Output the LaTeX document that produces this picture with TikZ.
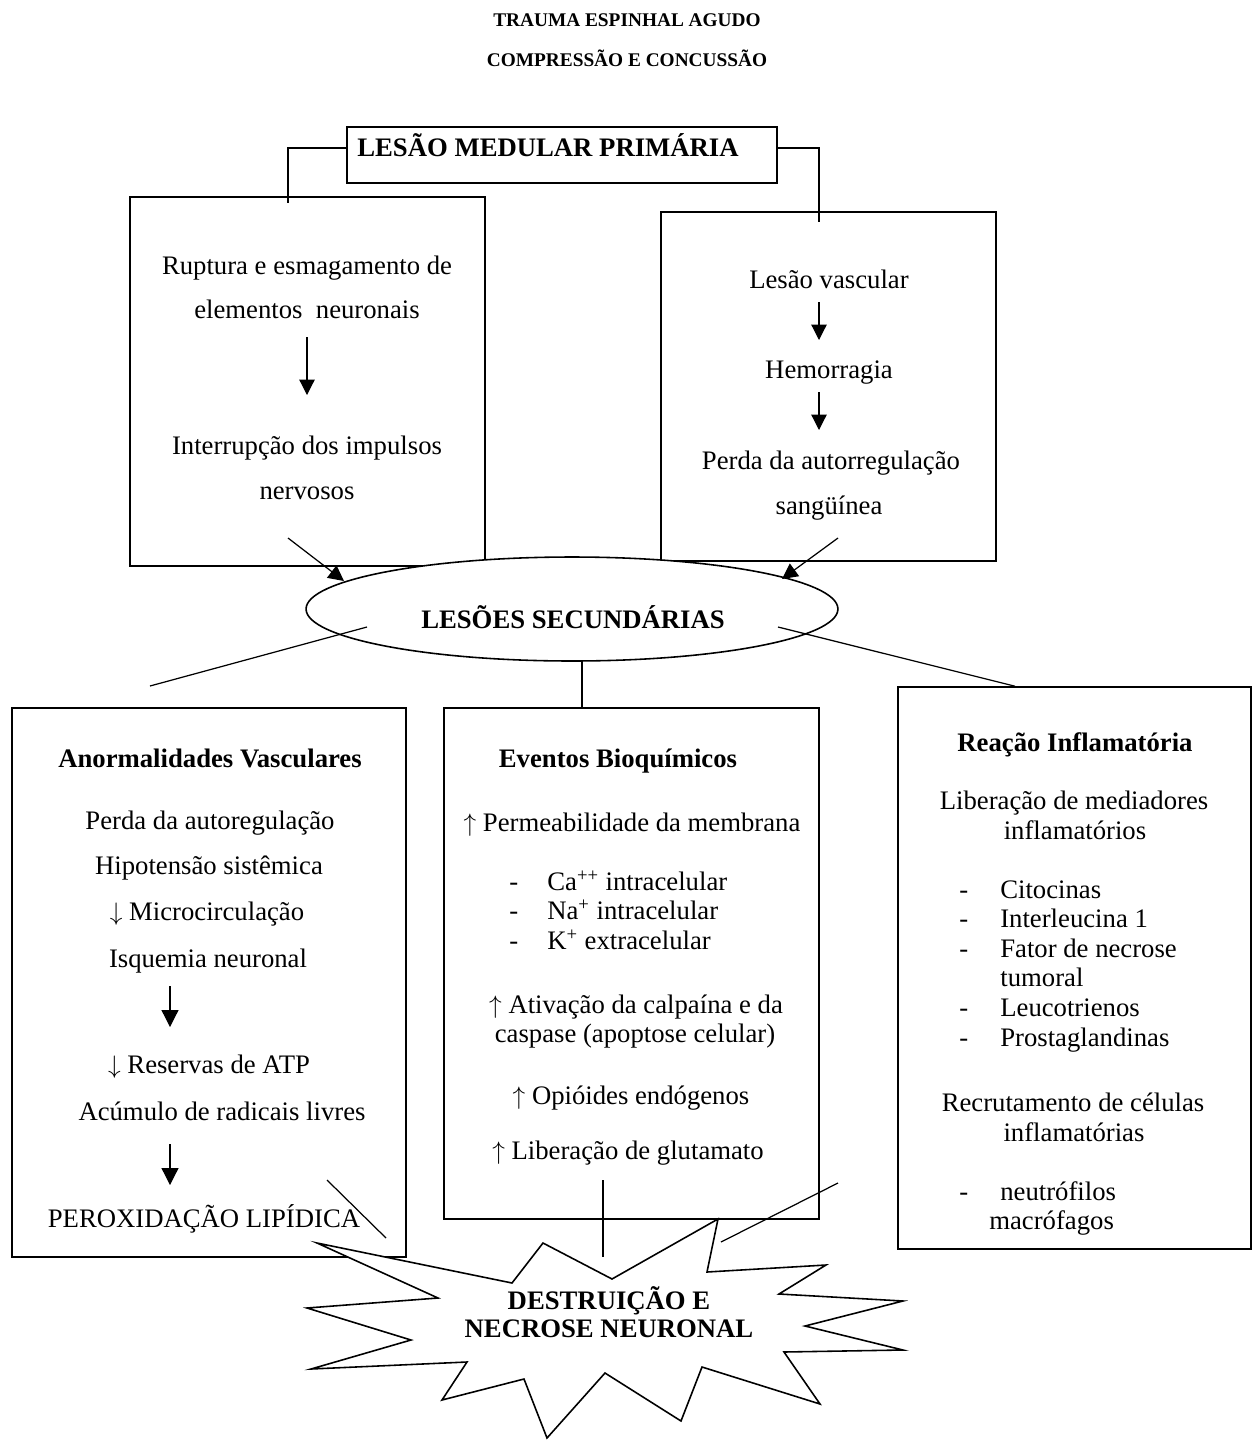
\documentclass[tikz,border=0pt]{standalone}
\usepackage{fontspec}
\setmainfont{Liberation Serif}
\usetikzlibrary{positioning,arrows.meta,fit,calc,shapes.geometric}

\newcommand{\lsdash}[1]{\makebox[#1][l]{-}}

\begin{document}
\begin{tikzpicture}[
  x=0.02cm, y=-0.02cm,
  txt/.style={font=\fontsize{15.2}{17}\selectfont, inner sep=0pt, text height=10.5pt, text depth=3pt},
  hdr/.style={txt, font=\fontsize{15.2}{17}\selectfont\bfseries},
  ttl/.style={txt, font=\fontsize{11}{13}\selectfont\bfseries},
  item/.style={txt, anchor=west},
  box/.style={draw, line width=0.9pt, inner sep=0pt},
  conn/.style={draw, line width=0.7pt},
  arr/.style={conn, -{Triangle[length=3.1mm, width=3.1mm]}}
]
\useasboundingbox (0,0) rectangle (1254,1441);

% titulo
\node[ttl] (tit1) at (627,20) {TRAUMA ESPINHAL AGUDO};
\node[ttl] (tit2) at (627,60) {COMPRESSÃO E CONCUSSÃO};

% lesao primaria
\node[box, fit={(347,127) (777,183)}] (prim) {};
\node[hdr] (primtxt) at (548,150) {LESÃO MEDULAR PRIMÁRIA};

\node[box, fit={(130,197) (485,566)}] (rupt) {};
\node[box, fit={(661,212) (996,561)}] (vasc) {};
\coordinate (rtop) at (288,203);
\coordinate (vtop) at (819,222);
\draw[conn] (prim.west |- 0,148) -| (rtop);
\draw[conn] (prim.east |- 0,148) -| (vtop);

\node[txt] (rup1) at (307,268) {Ruptura e esmagamento de};
\node[txt] (rup2) at (307,312) {elementos\ \ neuronais};
\node[txt] (rup3) at (307,448) {Interrupção dos impulsos};
\node[txt] (rup4) at (307,493) {nervosos};
\coordinate (ra1) at (307,337);
\coordinate (ra2) at (307,395);
\draw[arr] (ra1) -- (ra2);

\node[txt] (vas1) at (829,282) {Lesão vascular};
\node[txt] (vas2) at (829,372) {Hemorragia};
\node[txt] (vas3) at (831,463) {Perda da autorregulação};
\node[txt] (vas4) at (829,508) {sangüínea};
\coordinate (va1) at (819,302);
\coordinate (va2) at (819,340);
\coordinate (va3) at (819,392);
\coordinate (va4) at (819,430);
\draw[arr] (va1) -- (va2);
\draw[arr] (va3) -- (va4);

% lesoes secundarias
\node[ellipse, draw, fill=white, line width=0.9pt, minimum width=10.64cm, minimum height=2.08cm, inner sep=0pt] (sec) at (572,609) {};
\node[hdr] (sectxt) at (573,622) {LESÕES SECUNDÁRIAS};
\coordinate (la1) at (288,538);
\coordinate (la2) at (344,581);
\coordinate (la3) at (838,538);
\coordinate (la4) at (782,579);
\draw[arr] (la1) -- (la2);
\draw[arr] (la3) -- (la4);

% caixas inferiores
\node[box, fit={(12,708) (406,1257)}] (anorm) {};
\node[box, fit={(444,708) (819,1219)}] (bioq) {};
\node[box, fit={(898,687) (1251,1249)}] (infl) {};

\coordinate (sl) at (367,627);
\coordinate (sm) at (582,661);
\coordinate (sr) at (778,627);
\coordinate (lfree) at (150,686);
\draw[conn] (sl) -- (lfree);
\draw[conn] (sm) -- (sm |- bioq.north);
\draw[conn] (sr) -- (infl.north -| 1015,0);

\node[hdr] (anormtit) at (210,761) {Anormalidades Vasculares};
\node[txt] (an1) at (210,823) {Perda da autoregulação};
\node[txt] (an2) at (209,868) {Hipotensão sistêmica};
\node[txt] (an3) at (207,914) {$\downarrow$ Microcirculação};
\node[txt] (an4) at (208,961) {Isquemia neuronal};
\node[txt] (an5) at (209,1067) {$\downarrow$ Reservas de ATP};
\node[txt] (an6) at (222,1114) {Acúmulo de radicais livres};
\node[txt] (an7) at (204,1221) {PEROXIDAÇÃO LIPÍDICA};
\coordinate (aa1) at (170,986);
\coordinate (aa2) at (170,1027);
\coordinate (aa3) at (170,1144);
\coordinate (aa4) at (170,1185);
\draw[arr, -{Triangle[length=3.4mm, width=3.4mm]}] (aa1) -- (aa2);
\draw[arr, -{Triangle[length=3.4mm, width=3.4mm]}] (aa3) -- (aa4);

\node[hdr] (bioqtit) at (618,761) {Eventos Bioquímicos};
\node[txt] (bq1) at (632,825) {$\uparrow$ Permeabilidade da membrana};
\node[item] (bq2) at (509,884) {\lsdash{0.76cm}Ca\textsuperscript{++} intracelular};
\node[item] (bq3) at (509,913) {\lsdash{0.76cm}Na\textsuperscript{+} intracelular};
\node[item] (bq4) at (509,943) {\lsdash{0.76cm}K\textsuperscript{+} extracelular};
\node[txt] (bq5) at (636,1007) {$\uparrow$ Ativação da calpaína e da};
\node[txt] (bq6) at (635,1036) {caspase (apoptose celular)};
\node[txt] (bq7) at (631,1098) {$\uparrow$ Opióides endógenos};
\node[txt] (bq8) at (628,1153) {$\uparrow$ Liberação de glutamato};

\node[hdr] (infltit) at (1075,745) {Reação Inflamatória};
\node[txt] (in1) at (1074,803) {Liberação de mediadores};
\node[txt] (in2) at (1075,833) {inflamatórios};
\node[item] (in3) at (959,892) {\lsdash{0.82cm}Citocinas};
\node[item] (in4) at (959,921) {\lsdash{0.82cm}Interleucina 1};
\node[item] (in5) at (959,951) {\lsdash{0.82cm}Fator de necrose};
\node[item] (in6) at (1000,980) {tumoral};
\node[item] (in7) at (959,1010) {\lsdash{0.82cm}Leucotrienos};
\node[item] (in8) at (959,1040) {\lsdash{0.82cm}Prostaglandinas};
\node[txt] (in9) at (1073,1105) {Recrutamento de células};
\node[txt] (in10) at (1074,1135) {inflamatórias};
\node[item] (in11) at (959,1194) {\lsdash{0.82cm}neutrófilos};
\node[item] (in12) at (989,1223) {macrófagos};

% destruicao
\draw[box, fill=white] (317,1243) -- (512,1283) -- (543,1243) -- (612,1279) -- (718,1219)
  -- (707,1272) -- (826,1265) -- (779,1294) -- (903,1301) -- (805,1326) -- (903,1350)
  -- (784,1352) -- (820,1404) -- (702,1367) -- (681,1421) -- (605,1373) -- (547,1438)
  -- (524,1379) -- (442,1400) -- (467,1362) -- (311,1369) -- (411,1340) -- (307,1308)
  -- (438,1298) -- cycle;
\node[hdr] (necr1) at (609,1303) {DESTRUIÇÃO E};
\node[hdr] (necr2) at (609,1331) {NECROSE NEURONAL};

\coordinate (pk1) at (327,1180);
\coordinate (pk2) at (386,1238);
\coordinate (gl1) at (603,1180);
\coordinate (gl2) at (603,1257);
\coordinate (ik1) at (838,1183);
\coordinate (ik2) at (721,1242);
\draw[conn] (pk1) -- (pk2);
\draw[conn] (gl1) -- (gl2);
\draw[conn] (ik1) -- (ik2);

\end{tikzpicture}
\end{document}
